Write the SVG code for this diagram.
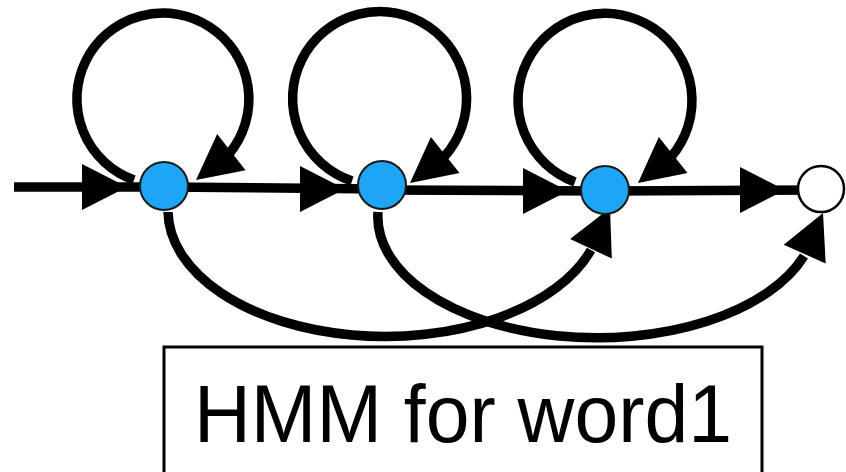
<svg xmlns="http://www.w3.org/2000/svg" xmlns:xlink="http://www.w3.org/1999/xlink" width="846" height="472" viewBox="0 0 846 472">
<style>
.edge{fill:none;stroke:#000;stroke-width:9.5}
.ah{fill:#000}
.state{fill:#1EA5F5;stroke:#1a1a1a;stroke-width:2}
.final{fill:#fff;stroke:#000;stroke-width:2.5}
.box{fill:none;stroke:#000;stroke-width:3}
.lbl{font-family:"Liberation Sans",Arial,sans-serif;font-size:81px;fill:#000}
</style>
<defs>
<path id="arrow" d="M0,0 L-45,-23 L-45,23 Z"/>
</defs>
<rect width="846" height="472" fill="#fff"/>
<g id="connectors">
  <line class="edge" x1="14" y1="187" x2="164" y2="187"/>
  <line class="edge" x1="164" y1="187" x2="382" y2="189"/>
  <line class="edge" x1="382" y1="190" x2="606" y2="191"/>
  <line class="edge" x1="606" y1="191" x2="822" y2="190"/>
  <use href="#arrow" class="ah" transform="translate(127,187)"/>
  <use href="#arrow" class="ah" transform="translate(345,189)"/>
  <use href="#arrow" class="ah" transform="translate(568,191)"/>
  <use href="#arrow" class="ah" transform="translate(785,190)"/>
  <path class="edge" d="M134,180 A86,86 0 1 1 229,154"/>
  <use href="#arrow" class="ah" transform="translate(196,180) rotate(141.8)"/>
  <path class="edge" d="M352,181 A87,87 0 1 1 444,157"/>
  <use href="#arrow" class="ah" transform="translate(410,183) rotate(141.5)"/>
  <path class="edge" d="M575,182 A87,87 0 1 1 671,157"/>
  <use href="#arrow" class="ah" transform="translate(638,183) rotate(141.4)"/>
  <path class="edge" d="M168,212 A217,126 0 0 0 591,250"/>
  <use href="#arrow" class="ah" transform="translate(610,208) rotate(-65)"/>
  <path class="edge" d="M378,212 A219,121 0 0 0 804,256"/>
  <use href="#arrow" class="ah" transform="translate(823,213) rotate(-66)"/>
</g>
<g id="s1"><circle class="state" cx="164" cy="186" r="24"/></g>
<g id="s2"><circle class="state" cx="382" cy="185" r="24"/></g>
<g id="s3"><circle class="state" cx="605" cy="190" r="24"/></g>
<g id="s4"><circle class="final" cx="821" cy="189" r="23"/></g>
<g id="label">
  <rect class="box" x="164" y="347" width="598" height="140"/>
  <text class="lbl" x="194" y="442" textLength="538" lengthAdjust="spacingAndGlyphs">HMM for word1</text>
</g>
</svg>
